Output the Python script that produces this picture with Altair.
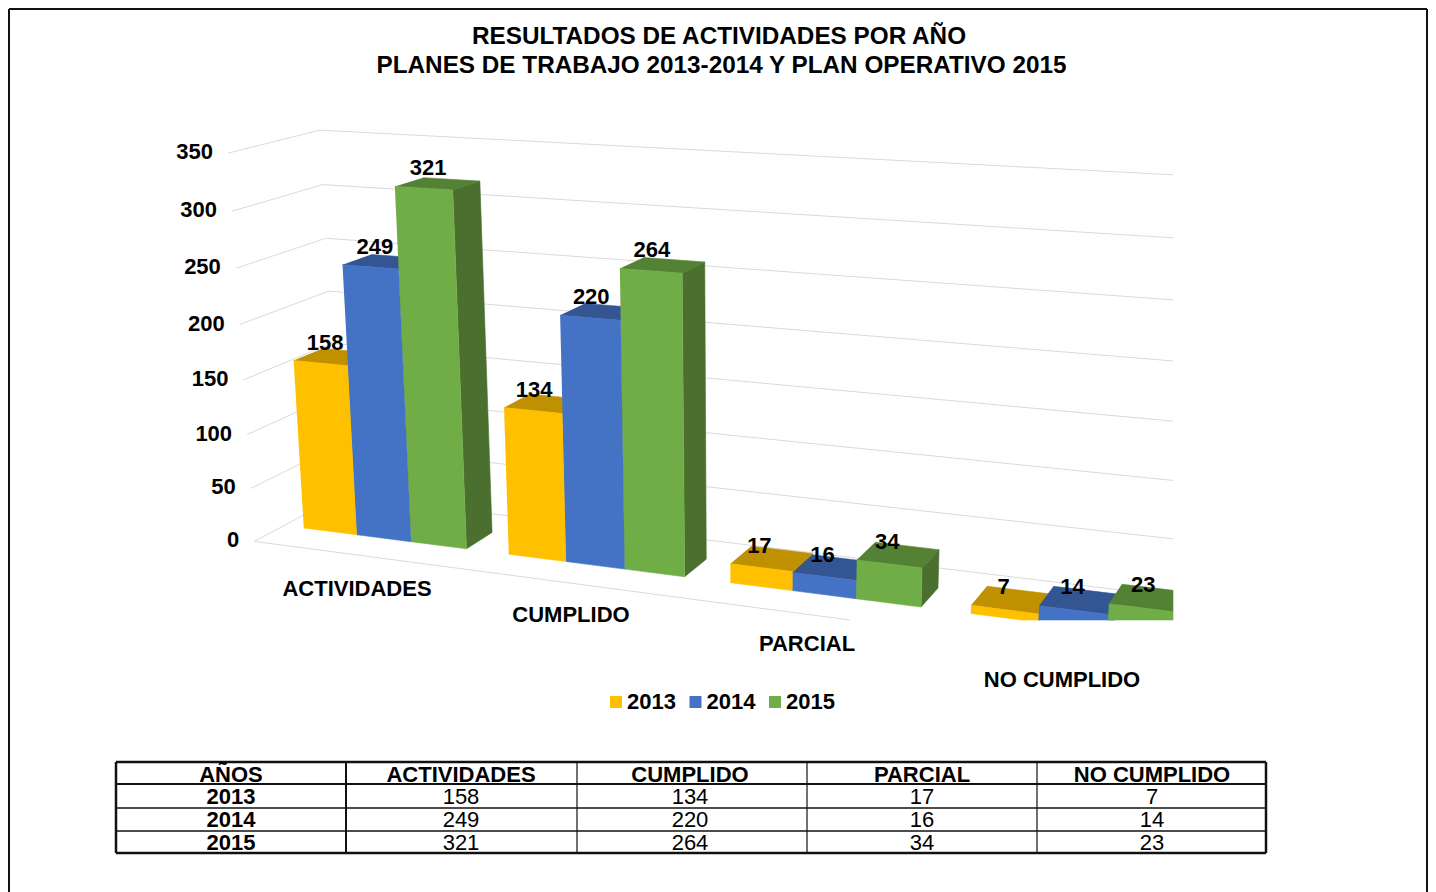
import altair as alt
import numpy as np
import pandas as pd

# ---------- data ----------
categories = ["ACTIVIDADES", "CUMPLIDO", "PARCIAL", "NO CUMPLIDO"]
years = ["2013", "2014", "2015"]
values_2013 = [158, 134, 17, 7]
values_2014 = [249, 220, 16, 14]
values_2015 = [321, 264, 34, 23]
y_ticks = [0, 50, 100, 150, 200, 250, 300, 350]
title_lines = ["RESULTADOS DE ACTIVIDADES POR AÑO",
               "PLANES DE TRABAJO 2013-2014 Y PLAN OPERATIVO 2015"]
table_header = ["AÑOS"] + categories
series = [values_2013, values_2014, values_2015]

# ---------- style ----------
FRONT = ["#FFC000", "#4472C4", "#70AD47"]
TOP = ["#BF9000", "#335693", "#548235"]
SIDE = ["#A67C00", "#2C4A80", "#4A6F2E"]
GRID = "#DADADA"
FONT = "Liberation Sans"
W, H = 1420, 884
CLIP_X, CLIP_Y = 1173, 620
LABEL_NUDGE_X = [4.5, 1, -2, -1]
LABEL_NUDGE_Y = [1, 0, -1, -2]

# ---------- 3D camera of the picture, calibrated on points of its frame ----------
PITCH, GAP = 1.0, 0.75
CAT = 3 * PITCH + GAP
XL, XR = -GAP / 2, 4 * CAT - GAP / 2
ZF, ZB = 1 / 3, 2 / 3
calib = [
    (XL, 350, 0, 231, 152), (XL, 200, 0, 242, 323), (XL, 0, 0, 257, 540),
    (XL, 350, 1, 318, 131), (XL, 200, 1, 327, 292), (XL, 0, 1, 344, 495),
    (0, 0, ZF, 301.7, 529), (1, 0, ZF, 355, 536), (2, 0, ZF, 410, 543), (3, 0, ZF, 465, 549),
    (3.75, 0, ZF, 507.7, 555.7), (6.75, 0, ZF, 684, 577), (7.5, 0, ZF, 730, 583),
    (10.5, 0, ZF, 922, 607), (11.25, 0, ZF, 971, 614),
    (0, 158, ZF, 292, 361), (1, 158, ZF, 347, 366), (1, 249, ZF, 341, 265),
    (2, 321, ZF, 394, 186), (3, 321, ZF, 452, 190),
    (3, 321, ZB, 482, 181), (3, 0, ZB, 494, 531), (2, 321, ZB, 423, 177),
    (3.75, 134, ZF, 504, 408), (4.75, 134, ZF, 562, 414), (4.75, 220, ZF, 560, 316),
    (5.75, 264, ZF, 620, 268), (6.75, 264, ZF, 682, 272), (6.75, 264, ZB, 706, 262),
    (6.75, 0, ZB, 708, 557),
    (9.5, 34, ZF, 857, 561), (10.5, 34, ZF, 922, 568), (10.5, 34, ZB, 939, 547),
    (10.5, 0, ZB, 939, 586), (7.5, 17, ZF, 730, 565), (7.5, 17, ZB, 750, 547),
    (11.25, 7, ZF, 971, 606), (11.25, 7, ZB, 987, 584), (12.25, 14, ZF, 1039, 607),
    (13.25, 23, ZF, 1108, 604),
]
# heights of the back wall's lines where the picture cuts them off (value, pixel row)
wall_cut = [(350, 176), (300, 239), (250, 300), (200, 360), (150, 421), (100, 480), (50, 540)]


def fit(extra=()):
    A, b = [], []
    for X, Y, Z, u, v in calib:
        A.append([X, Y, Z, 1, 0, 0, 0, 0, -u * X, -u * Y, -u * Z]); b.append(u)
        A.append([0, 0, 0, 0, X, Y, Z, 1, -v * X, -v * Y, -v * Z]); b.append(v)
    for X, Y, Z, v in extra:
        A.append([0, 0, 0, 0, X, Y, Z, 1, -v * X, -v * Y, -v * Z]); b.append(v)
    return np.linalg.lstsq(np.array(A, float), np.array(b, float), rcond=None)[0]


p = fit()


def proj(X, Y, Z):
    d = p[8] * X + p[9] * Y + p[10] * Z + 1
    return ((p[0] * X + p[1] * Y + p[2] * Z + p[3]) / d,
            (p[4] * X + p[5] * Y + p[6] * Z + p[7]) / d)


for _ in range(3):
    extra = []
    for val, row in wall_cut:
        lo, hi = 0.0, 20.0
        for _i in range(40):
            mid = (lo + hi) / 2
            if proj(mid, val, 1)[0] < CLIP_X:
                lo = mid
            else:
                hi = mid
        extra.append((lo, val, 1, row))
    p = fit(extra)


def clip_poly(pts):
    for axis, lim in ((0, CLIP_X), (1, CLIP_Y)):
        out = []
        for i, a in enumerate(pts):
            c = pts[i - 1]
            ina, inc = a[axis] <= lim, c[axis] <= lim
            if ina != inc:
                t = (lim - c[axis]) / (a[axis] - c[axis])
                out.append((c[0] + t * (a[0] - c[0]), c[1] + t * (a[1] - c[1])))
            if ina:
                out.append(a)
        pts = out
        if not pts:
            break
    return pts


def clip_seg(a, b):
    for axis, lim in ((0, CLIP_X), (1, CLIP_Y)):
        if a[axis] > lim and b[axis] > lim:
            return None
        if a[axis] > lim or b[axis] > lim:
            t = (lim - a[axis]) / (b[axis] - a[axis])
            m = (a[0] + t * (b[0] - a[0]), a[1] + t * (b[1] - a[1]))
            a, b = (m, b) if a[axis] > lim else (a, m)
    return a, b


# ---------- faces of the bars, far ones first ----------
rows = []
fid = 0


def add_face(corners, color):
    global fid
    for i, (u, v) in enumerate(clip_poly([proj(*c) for c in corners])):
        rows.append({"face": f"f{fid:03d}", "i": i, "u": u, "v": v, "color": color})
    fid += 1


labels = []
for j in range(len(categories)):
    for k in range(len(years)):
        val = series[k][j]
        x0 = j * CAT + k * PITCH
        x1 = x0 + PITCH
        add_face([(x1, 0, ZF), (x1, 0, ZB), (x1, val, ZB), (x1, val, ZF)], SIDE[k])
        add_face([(x0, val, ZF), (x1, val, ZF), (x1, val, ZB), (x0, val, ZB)], TOP[k])
        add_face([(x0, 0, ZF), (x1, 0, ZF), (x1, val, ZF), (x0, val, ZF)], FRONT[k])
        lu, lv = proj((x0 + x1) / 2, val, ZF)
        labels.append({"u": lu + LABEL_NUDGE_X[j], "v": lv - 21 + LABEL_NUDGE_Y[j], "t": str(val)})
faces = pd.DataFrame(rows)
bar_labels = pd.DataFrame(labels)

# ---------- gridlines ----------
segs = []
for t in y_ticks:
    segs.append(clip_seg(proj(XL, t, 0), proj(XL, t, 1)))
    segs.append(clip_seg(proj(XL, t, 1), proj(XR, t, 1)))
segs.append(clip_seg(proj(XL, 0, 0), proj(XR, 0, 0)))
grid = pd.DataFrame([{"u": s[0][0], "v": s[0][1], "u2": s[1][0], "v2": s[1][1]} for s in segs if s])

tick_labels = pd.DataFrame([{"u": proj(XL, t, 0)[0] - 15, "v": proj(XL, t, 0)[1] - 1, "t": str(t)}
                            for t in y_ticks])

# ---------- layout of the texts ----------
title_df = pd.DataFrame({"u": [719, 721.5], "v": [36.5, 65.5], "t": title_lines})
cat_df = pd.DataFrame({"u": [357, 571, 807, 1062], "v": [589, 615, 644, 680], "t": categories})

col_x = [116, 346, 577, 807, 1037, 1266]
row_y = [762, 784, 808, 831, 853]
col_c = [231, 461, 690, 922, 1152]
row_c = [774.5, 796.5, 819.5, 842.5]
tb = [{"u": c, "v": row_c[0], "t": t} for c, t in zip(col_c, table_header)]
tb += [{"u": col_c[0], "v": row_c[i + 1], "t": y} for i, y in enumerate(years)]
table_bold = pd.DataFrame(tb)
table_reg = pd.DataFrame([{"u": col_c[j + 1], "v": row_c[k + 1], "t": str(series[k][j])}
                          for k in range(3) for j in range(4)])

rules = []
for i, x in enumerate(col_x):
    rules.append({"u": x, "u2": x, "v": row_y[0], "v2": row_y[-1],
                  "w": 2.5 if i in (0, 5) else (2 if i == 1 else 1.2)})
for i, y in enumerate(row_y):
    rules.append({"u": col_x[0], "u2": col_x[-1], "v": y, "v2": y,
                  "w": 2.5 if i in (0, 4) else (2 if i == 1 else 1.3)})
table_rules = pd.DataFrame(rules)
frame = pd.DataFrame([
    {"u": 9, "u2": 1427, "v": 9, "v2": 9},
    {"u": 9, "u2": 9, "v": 9, "v2": 892},
    {"u": 1427, "u2": 1427, "v": 9, "v2": 892},
])

# ---------- scales: picture pixels, page margin taken off ----------
sx = alt.Scale(domain=[8, 8 + W], range=[0, W], nice=False, zero=False)
sy = alt.Scale(domain=[8, 8 + H], range=[0, H], nice=False, zero=False)
ex = alt.X("u:Q", scale=sx, axis=None)
ey = alt.Y("v:Q", scale=sy, axis=None)


def text_layer(df, size, weight="bold", align="center"):
    return alt.Chart(df).mark_text(font=FONT, fontSize=size, fontWeight=weight, color="black",
                                   align=align, baseline="middle").encode(x=ex, y=ey, text="t:N")


def rule_layer(df, **kw):
    return alt.Chart(df).mark_rule(**kw).encode(x=ex, y=ey, x2="u2:Q", y2="v2:Q")


frame_l = rule_layer(frame, color="#111111", strokeWidth=2)
grid_l = rule_layer(grid, color=GRID, strokeWidth=1)
faces_l = alt.Chart(faces).mark_line(strokeWidth=0.6, interpolate="linear").encode(
    x=ex, y=ey, order="i:Q", detail="face:N",
    fill=alt.Fill("color:N", scale=None), stroke=alt.Stroke("color:N", scale=None))
rules_l = alt.Chart(table_rules).mark_rule(color="#111111").encode(
    x=ex, y=ey, x2="u2:Q", y2="v2:Q", strokeWidth=alt.StrokeWidth("w:Q", scale=None))
legend_l = alt.Chart(pd.DataFrame({"year": years})).mark_square(size=0, opacity=1).encode(
    x=alt.value(0), y=alt.value(0),
    color=alt.Color("year:N", scale=alt.Scale(domain=years, range=FRONT),
                    legend=alt.Legend(orient="none", legendX=597, legendY=683, direction="horizontal",
                                      title=None, symbolType="square", symbolSize=144,
                                      symbolStrokeWidth=0, symbolOpacity=1, labelFont=FONT, labelFontSize=22,
                                      labelFontWeight="bold", labelColor="black", labelOffset=0,
                                      columnPadding=8.5)))

chart = alt.layer(
    frame_l, grid_l, faces_l,
    text_layer(title_df, 24.3),
    text_layer(tick_labels, 22, align="right"),
    text_layer(cat_df, 22),
    text_layer(bar_labels, 22),
    rules_l,
    text_layer(table_bold, 22),
    text_layer(table_reg, 22, weight="normal"),
    legend_l,
).properties(width=W, height=H, padding=0, autosize=alt.AutoSizeParams(type="none"),
             background="white").configure_view(stroke=None)

chart.save("out.html", embed_options={"renderer": "svg", "actions": False})
